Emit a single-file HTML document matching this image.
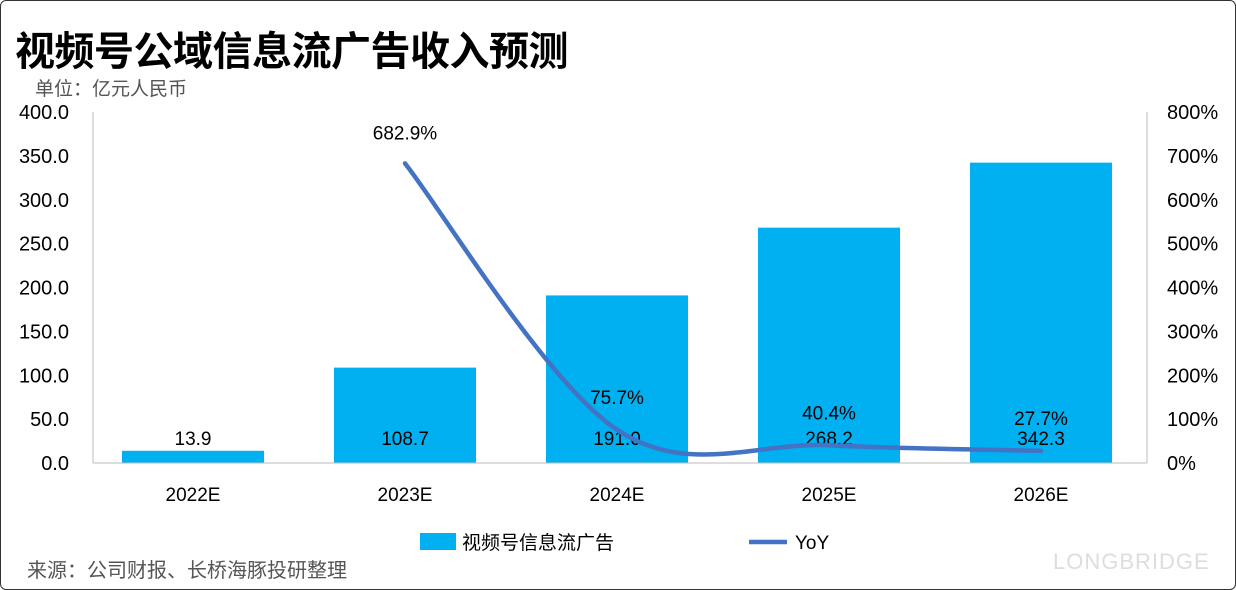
<!DOCTYPE html>
<html><head><meta charset="utf-8">
<style>
body{margin:0;background:#fff;}
#wrap{position:relative;width:1234px;height:588px;border:1px solid #333;border-radius:6px;overflow:hidden;font-family:"Liberation Sans","Noto Sans CJK SC",sans-serif;}
#title{position:absolute;left:14px;top:18px;font-size:40px;font-weight:bold;color:#000;letter-spacing:-0.5px;}
#unit{position:absolute;left:34px;top:73px;font-size:19px;color:#555;}
#source{position:absolute;left:26px;top:553px;font-size:20px;color:#555;}
#brand{position:absolute;left:1052px;top:548px;font-size:22px;color:#ddd;letter-spacing:1px;}
svg{position:absolute;left:0;top:0;}
</style></head><body>
<div id="wrap">
<div id="title">视频号公域信息流广告收入预测</div>
<div id="unit">单位：亿元人民币</div>
<div id="source">来源：公司财报、长桥海豚投研整理</div>
<div id="brand">LONGBRIDGE</div>
<svg id="chart" width="1236" height="590"></svg>
</div>
<script>
const categories=["2022E","2023E","2024E","2025E","2026E"];
const revenue=[13.9,108.7,191.0,268.2,342.3];
const yoy=[null,682.9,75.7,40.4,27.7];
const leftTicks=[0,50,100,150,200,250,300,350,400];
const rightTicks=[0,100,200,300,400,500,600,700,800];

const svg=document.getElementById('chart');
const NS='http://www.w3.org/2000/svg';
const X0=86,X1=1146,Y0=462,Y1=111;
const band=(X1-X0)/categories.length;
const xc=i=>X0+band*(i+0.5);
const yL=v=>Y0-(v/400)*(Y0-Y1);
const yR=v=>Y0-(v/800)*(Y0-Y1);
function mk(tag,attrs,parent){const e=document.createElementNS(NS,tag);for(const k in attrs)e.setAttribute(k,attrs[k]);(parent||svg).appendChild(e);return e;}
function txt(s,x,y,anchor,size,name){const t=mk('text',{x:x,y:y,'text-anchor':anchor,'font-size':size,fill:'#000','font-family':'Liberation Sans, Noto Sans CJK SC, sans-serif'});t.textContent=s;


return t;}

const la=mk('line',{x1:92,y1:Y1,x2:92,y2:Y0,stroke:'#bbb'});


const ra=mk('line',{x1:X1,y1:Y1,x2:X1,y2:Y0,stroke:'#bbb'});



leftTicks.forEach(v=>{txt(v.toFixed(1),68,yL(v)+7,'end',20,'left-tick-label');});
rightTicks.forEach(v=>{txt(v+'%',1166,yR(v)+7,'start',20,'right-tick-label');});

revenue.forEach((v,i)=>{
  const r=mk('rect',{x:xc(i)-71,y:yL(v),width:142,height:Y0-yL(v),fill:'#00b0f0'});
  
  
  txt(v.toFixed(1),xc(i),444,'middle',19,'bar-value-label');
  txt(categories[i],xc(i),500,'middle',19,'x-tick-label');
});
const base=mk('line',{x1:92,y1:Y0,x2:X1,y2:Y0,stroke:'#bbb'});



const pts=[];yoy.forEach((v,i)=>{if(v!==null)pts.push([xc(i),yR(v)]);});
let d='M'+pts[0][0]+','+pts[0][1];
for(let i=0;i<pts.length-1;i++){
  const p0=pts[Math.max(0,i-1)],p1=pts[i],p2=pts[i+1],p3=pts[Math.min(pts.length-1,i+2)];
  const t=1/6;
  d+=' C'+(p1[0]+(p2[0]-p0[0])*t)+','+(p1[1]+(p2[1]-p0[1])*t)+' '+(p2[0]-(p3[0]-p1[0])*t)+','+(p2[1]-(p3[1]-p1[1])*t)+' '+p2[0]+','+p2[1];
}
const line=mk('path',{d:d,fill:'none',stroke:'#4472c4','stroke-width':4.5,'stroke-linecap':'round'});


yoy.forEach((v,i)=>{if(v===null)return;
  const off=i===1?-24:-26;
  txt(v.toFixed(1)+'%',xc(i),yR(v)+off,'middle',19,'yoy-value-label');
});

const lr=mk('rect',{x:419,y:532,width:36,height:17,fill:'#00b0f0'});


txt('视频号信息流广告',461,548,'start',19,'legend-bar-label');
const ll=mk('line',{x1:748,y1:541,x2:786,y2:541,stroke:'#4472c4','stroke-width':4.5});


txt('YoY',794,548,'start',19,'legend-line-label');
</script>
</body></html>
